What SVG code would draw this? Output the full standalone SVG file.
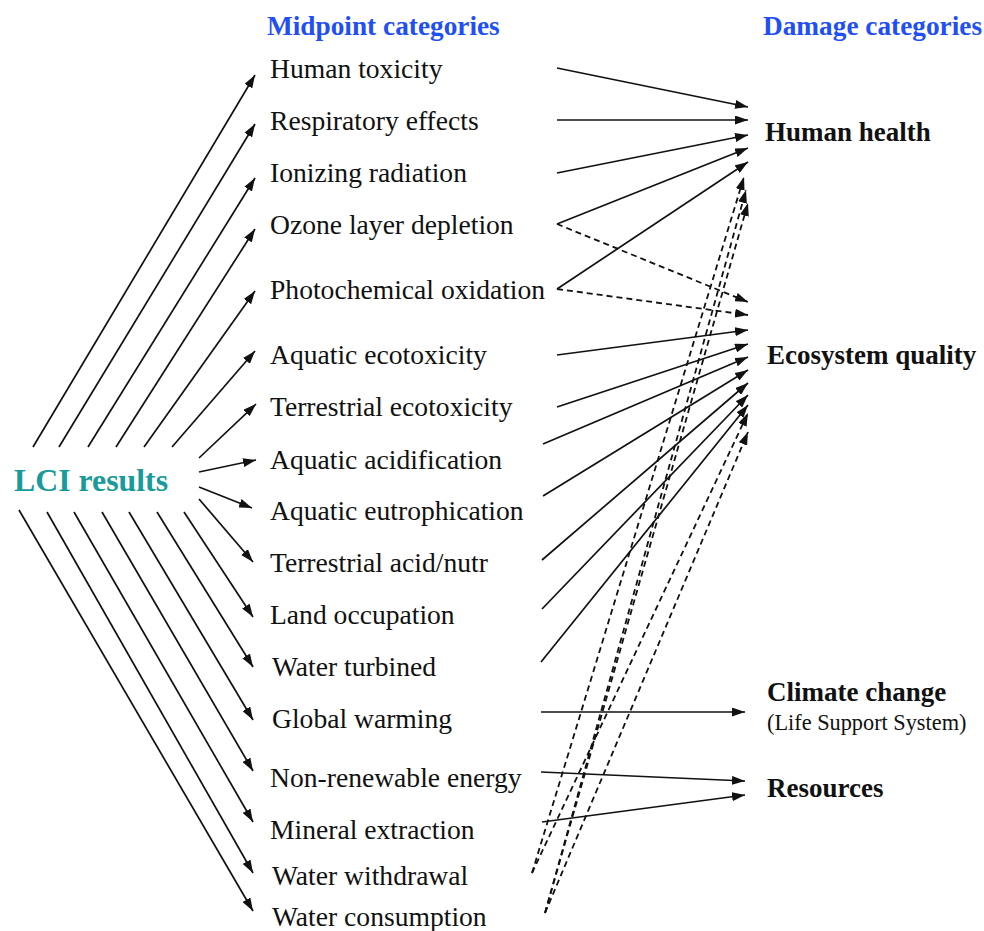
<svg xmlns="http://www.w3.org/2000/svg" width="984" height="931" viewBox="0 0 984 931">
<style>
.mid{font-family:"Liberation Serif","Times New Roman",serif;font-size:27.6px;fill:#111}
.dmg{font-family:"Liberation Serif","Times New Roman",serif;font-size:27px;font-weight:bold;fill:#111}
.sub{font-family:"Liberation Serif","Times New Roman",serif;font-size:22.3px;fill:#111}
.hdr{font-family:"Liberation Serif","Times New Roman",serif;font-size:27.3px;font-weight:bold;fill:#1f4ff5}
.lci{font-family:"Liberation Serif","Times New Roman",serif;font-size:31.8px;font-weight:bold;fill:#1a9a9a}
.c{stroke:#111;stroke-width:1.7;fill:none;marker-end:url(#ah)}
.d{stroke:#111;stroke-width:1.8;fill:none;stroke-dasharray:6 4;marker-end:url(#ah)}
</style>
<defs>
<marker id="ah" viewBox="0 0 13 9" refX="13" refY="4.5" markerWidth="13" markerHeight="9" markerUnits="userSpaceOnUse" orient="auto">
<path d="M0,0 L13,4.5 L0,9 z" fill="#111"/>
</marker>
</defs>
<rect width="984" height="931" fill="#fff"/>
<g id="headers">
<text class="hdr" x="267" y="35">Midpoint categories</text>
<text class="hdr" x="763" y="35">Damage categories</text>
</g>
<g id="lci"><text class="lci" x="14" y="491">LCI results</text></g>
<g id="m1"><text class="mid" x="270" y="78">Human toxicity</text></g>
<g id="m2"><text class="mid" x="270" y="130">Respiratory effects</text></g>
<g id="m3"><text class="mid" x="270" y="182">Ionizing radiation</text></g>
<g id="m4"><text class="mid" x="270" y="234">Ozone layer depletion</text></g>
<g id="m5"><text class="mid" x="270" y="299">Photochemical oxidation</text></g>
<g id="m6"><text class="mid" x="270" y="364">Aquatic ecotoxicity</text></g>
<g id="m7"><text class="mid" x="270" y="416">Terrestrial ecotoxicity</text></g>
<g id="m8"><text class="mid" x="270" y="469">Aquatic acidification</text></g>
<g id="m9"><text class="mid" x="270" y="520">Aquatic eutrophication</text></g>
<g id="m10"><text class="mid" x="270" y="572">Terrestrial acid/nutr</text></g>
<g id="m11"><text class="mid" x="270" y="624">Land occupation</text></g>
<g id="m12"><text class="mid" x="272" y="676">Water turbined</text></g>
<g id="m13"><text class="mid" x="272" y="728">Global warming</text></g>
<g id="m14"><text class="mid" x="270" y="787">Non-renewable energy</text></g>
<g id="m15"><text class="mid" x="270" y="839">Mineral extraction</text></g>
<g id="m16"><text class="mid" x="272" y="885">Water withdrawal</text></g>
<g id="m17"><text class="mid" x="272" y="926">Water consumption</text></g>
<g id="d1"><text class="dmg" x="765" y="141">Human health</text></g>
<g id="d2"><text class="dmg" x="767" y="364">Ecosystem quality</text></g>
<g id="d3"><text class="dmg" x="767" y="701">Climate change</text><text class="sub" x="767" y="730">(Life Support System)</text></g>
<g id="d4"><text class="dmg" x="767" y="797">Resources</text></g>
<g id="connectors">
<line class="c" x1="33" y1="447" x2="255" y2="75"/>
<line class="c" x1="59" y1="447" x2="255" y2="124"/>
<line class="c" x1="88" y1="447" x2="255" y2="178"/>
<line class="c" x1="116" y1="447" x2="255" y2="229"/>
<line class="c" x1="144" y1="447" x2="255" y2="291"/>
<line class="c" x1="172" y1="447" x2="255" y2="351"/>
<line class="c" x1="199" y1="458" x2="256" y2="404"/>
<line class="c" x1="199" y1="472" x2="256" y2="460"/>
<line class="c" x1="199" y1="487" x2="252" y2="508"/>
<line class="c" x1="199" y1="499" x2="253" y2="562"/>
<line class="c" x1="184" y1="512" x2="253" y2="617"/>
<line class="c" x1="157" y1="512" x2="253" y2="667"/>
<line class="c" x1="129" y1="512" x2="253" y2="720"/>
<line class="c" x1="102" y1="512" x2="253" y2="771"/>
<line class="c" x1="74" y1="512" x2="253" y2="822"/>
<line class="c" x1="47" y1="512" x2="253" y2="873"/>
<line class="c" x1="19" y1="510" x2="253" y2="911"/>
<line class="c" x1="557" y1="68" x2="748" y2="107"/>
<line class="c" x1="557" y1="120" x2="748" y2="120"/>
<line class="c" x1="557" y1="173" x2="748" y2="135"/>
<line class="c" x1="557" y1="224" x2="748" y2="148"/>
<line class="c" x1="557" y1="289" x2="748" y2="162"/>
<line class="d" x1="557" y1="224" x2="748" y2="302"/>
<line class="d" x1="557" y1="289" x2="748" y2="315"/>
<line class="c" x1="557" y1="355" x2="748" y2="330"/>
<line class="c" x1="557" y1="407" x2="748" y2="344"/>
<line class="c" x1="543" y1="444" x2="748" y2="357"/>
<line class="c" x1="543" y1="496" x2="748" y2="370"/>
<line class="c" x1="542" y1="560" x2="748" y2="383"/>
<line class="c" x1="542" y1="609" x2="748" y2="395"/>
<line class="c" x1="541" y1="662" x2="748" y2="405"/>
<line class="c" x1="541" y1="712" x2="745" y2="712"/>
<line class="c" x1="541" y1="772" x2="745" y2="781"/>
<line class="c" x1="542" y1="822" x2="745" y2="795"/>
<line class="d" x1="532" y1="873" x2="744" y2="177"/>
<line class="d" x1="532" y1="873" x2="748" y2="413"/>
<line class="d" x1="545" y1="913" x2="746" y2="190"/>
<line class="d" x1="545" y1="913" x2="748" y2="203"/>
<line class="d" x1="545" y1="913" x2="748" y2="432"/>
</g>
</svg>
